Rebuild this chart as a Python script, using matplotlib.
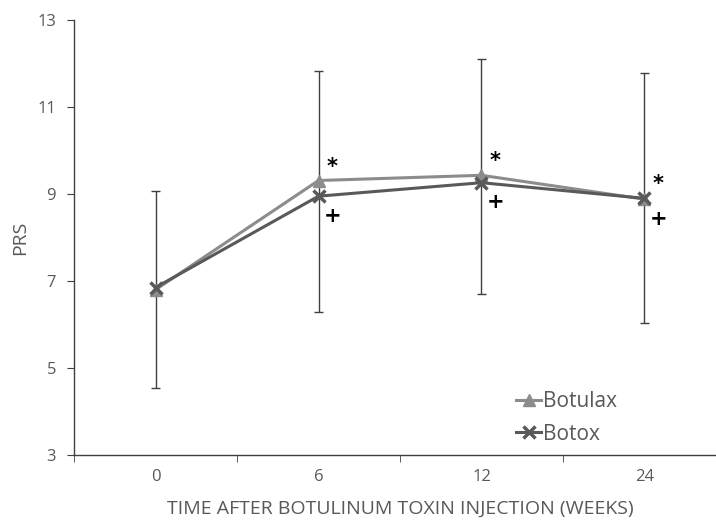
import matplotlib
matplotlib.use('Agg')
import matplotlib.pyplot as plt
import numpy as np

plt.rcParams['font.family'] = ['Open Sans', 'DejaVu Sans']

weeks = ['0', '6', '12', '24']
botulax = [6.80, 9.31, 9.43, 8.88]
botox = [6.85, 8.95, 9.26, 8.90]
err_low = [4.54, 6.28, 6.69, 6.03]
err_high = [9.06, 11.83, 12.11, 11.78]

text_grey = '#595959'
x = np.arange(len(weeks))

fig = plt.figure(figsize=(7.16, 5.24), dpi=100)
ax = fig.add_axes([74 / 716, 69 / 524, 652 / 716, 435 / 524])

# error bars (thin, small caps)
ax.vlines(x, err_low, err_high, color='#404040', lw=1.0, zorder=1)
ax.hlines(err_low, x - 0.03, x + 0.03, color='#404040', lw=1.0, zorder=1)
ax.hlines(err_high, x - 0.03, x + 0.03, color='#404040', lw=1.0, zorder=1)

ax.plot(x, botulax, color='#8c8c8c', lw=2.2, marker='^', ms=8,
        label='Botulax', zorder=3)
ax.plot(x, botox, color='#595959', lw=2.2, marker='x', ms=8, mew=2.5,
        label='Botox', zorder=4)

# significance marks
for i in range(1, len(weeks)):
    ax.annotate('*', (x[i], max(botulax[i], botox[i])), xytext=(10, 10),
                textcoords='offset points', fontsize=15, fontweight='bold',
                color='black', ha='center', va='center', family='DejaVu Sans')
    ax.annotate('+', (x[i], min(botulax[i], botox[i])), xytext=(10, -14),
                textcoords='offset points', fontsize=15, fontweight='bold',
                color='black', ha='center', va='center', family='DejaVu Sans')

ax.set_xlim(-0.5, len(weeks) - 0.5)
ax.set_ylim(3, 13)
ax.set_yticks([3, 5, 7, 9, 11, 13])
ax.set_xticks(x)
ax.set_xticklabels(weeks)
ax.set_xticks(np.arange(-0.5, len(weeks), 1), minor=True)
ax.tick_params(axis='x', which='major', length=0, pad=10,
               labelsize=12, labelcolor=text_grey)
ax.tick_params(axis='x', which='minor', length=5, direction='out',
               color='#404040')
ax.tick_params(axis='y', length=5, color='#404040', labelsize=12,
               labelcolor=text_grey, pad=8)

for side in ['top', 'right']:
    ax.spines[side].set_visible(False)
for side in ['left', 'bottom']:
    ax.spines[side].set_color('#404040')
    ax.spines[side].set_linewidth(1.0)

ax.set_xlabel('TIME AFTER BOTULINUM TOXIN INJECTION (WEEKS)',
              fontsize=14, color=text_grey, labelpad=11)
ax.set_ylabel('PRS', fontsize=14, color=text_grey, labelpad=6)

leg = ax.legend(loc='lower right', bbox_to_anchor=(0.862, -0.019),
                frameon=False, fontsize=15, handlelength=1.2,
                handletextpad=0.1, labelspacing=0.55)
for t in leg.get_texts():
    t.set_color(text_grey)

fig.savefig('out.png', dpi=100)
